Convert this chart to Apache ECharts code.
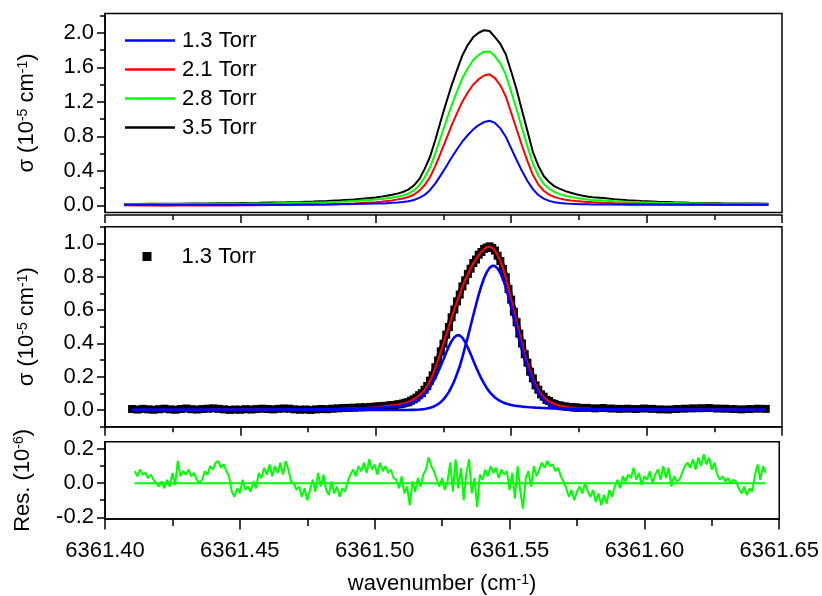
<!DOCTYPE html>
<html><head><meta charset="utf-8">
<script src="https://cdn.jsdelivr.net/npm/echarts@6/dist/echarts.min.js"></script>
<style>html,body{margin:0;padding:0;background:#fff}#c{width:822px;height:596px}</style>
</head><body><div id="c"></div>
<script>
// ---------- top panel: absorption profiles at four pressures ----------
const wnTop = [6361.407,6361.412,6361.417,6361.422,6361.427,6361.432,6361.437,6361.442,6361.447,6361.452,6361.457,6361.462,6361.467,6361.472,6361.477,6361.482,6361.487,6361.492,6361.496,
6361.500,6361.502,6361.504,6361.506,6361.508,6361.510,6361.512,6361.514,6361.516,6361.518,6361.520,6361.522,6361.524,6361.526,6361.528,6361.530,6361.532,6361.534,6361.536,6361.538,6361.540,6361.542,6361.544,6361.546,6361.548,6361.550,6361.552,6361.554,6361.556,6361.558,6361.560,6361.562,6361.564,6361.566,6361.568,6361.570,6361.572,6361.574,6361.576,6361.578,6361.580,
6361.584,6361.588,6361.593,6361.598,6361.604,6361.610,6361.616,6361.622,6361.628,6361.634,6361.640,6361.645];
const sigma13 = [.010,.008,.009,.007,.008,.006,.007,.008,.006,.007,.008,.007,.008,.009,.010,.011,.013,.015,.018,
.020,.022,.025,.029,.033,.038,.048,.062,.087,.120,.175,.255,.350,.450,.555,.650,.740,.815,.880,.930,.965,.980,.955,.892,.795,.660,.525,.397,.282,.188,.120,.078,.052,.036,.027,.021,.017,.015,.013,.012,.011,
.010,.009,.008,.008,.007,.007,.007,.006,.006,.006,.006,.006];
const sigma21 = [.000,-.003,-.002,-.004,-.002,-.003,-.001,.000,-.002,.001,.002,.003,.004,.006,.008,.011,.016,.022,.030,
.037,.042,.049,.057,.069,.080,.097,.123,.167,.232,.325,.458,.612,.768,.926,1.068,1.204,1.310,1.400,1.462,1.505,1.518,1.474,1.390,1.261,1.073,.882,.691,.512,.354,.243,.169,.124,.095,.078,.065,.056,.049,.044,.040,.036,
.030,.025,.020,.017,.014,.012,.010,.009,.008,.007,.006,.006];
const sigma28 = [.015,.014,.016,.015,.016,.016,.017,.018,.019,.020,.022,.023,.026,.029,.032,.036,.042,.050,.058,
.067,.073,.081,.090,.101,.115,.137,.173,.231,.322,.438,.605,.792,.977,1.158,1.321,1.476,1.592,1.684,1.743,1.781,1.784,1.727,1.643,1.514,1.315,1.110,.892,.680,.482,.346,.249,.192,.153,.130,.111,.097,.086,.076,.069,.063,
.057,.048,.041,.035,.029,.026,.023,.020,.018,.017,.016,.014];
const sigma35 = [.015,.016,.017,.018,.019,.020,.021,.023,.025,.027,.029,.032,.035,.039,.044,.050,.058,.068,.080,
.092,.101,.111,.122,.136,.155,.182,.228,.300,.420,.560,.760,.980,1.190,1.390,1.570,1.740,1.860,1.950,2.000,2.030,2.020,1.950,1.870,1.750,1.550,1.340,1.100,.860,.620,.460,.340,.270,.220,.190,.165,.145,.128,.114,.103,.094,
.085,.072,.060,.050,.042,.036,.031,.027,.024,.022,.020,.018];

// ---------- middle panel: 1.3 Torr data, fit and two components ----------
const wnMid = [6361.410,6361.412,6361.414,6361.416,6361.418,6361.420,6361.422,6361.424,6361.426,6361.428,6361.430,6361.432,6361.434,6361.436,6361.438,6361.440,6361.442,6361.444,6361.446,6361.448,6361.450,6361.452,6361.454,6361.456,6361.458,6361.460,6361.462,6361.464,6361.466,6361.468,6361.470,6361.472,6361.474,6361.476,6361.478,6361.480,6361.482,6361.484,6361.486,6361.488,6361.490,6361.492,6361.494,6361.496,6361.498,6361.500,
6361.501,6361.502,6361.503,6361.504,6361.505,6361.506,6361.507,6361.508,6361.509,6361.510,6361.511,6361.512,6361.513,6361.514,6361.515,6361.516,6361.517,6361.518,6361.519,6361.520,6361.521,6361.522,6361.523,6361.524,6361.525,6361.526,6361.527,6361.528,6361.529,6361.530,6361.531,6361.532,6361.533,6361.534,6361.535,6361.536,6361.537,6361.538,6361.539,6361.540,6361.541,6361.542,6361.543,6361.544,6361.545,6361.546,6361.547,6361.548,6361.549,6361.550,6361.551,6361.552,6361.553,6361.554,6361.555,6361.556,6361.557,6361.558,6361.559,6361.560,6361.561,6361.562,6361.563,6361.564,6361.565,6361.566,6361.567,6361.568,6361.569,6361.570,6361.571,6361.572,6361.573,6361.574,6361.575,
6361.578,6361.581,6361.584,6361.587,6361.590,6361.593,6361.596,6361.599,6361.602,6361.605,6361.608,6361.611,6361.614,6361.617,6361.620,6361.623,6361.626,6361.629,6361.632,6361.635,6361.638,6361.641,6361.644];
const sigmaData = [.006,.003,.007,.004,.002,.005,.008,.004,.002,.006,.009,.005,.003,.006,.008,.010,.007,.004,.001,.003,.002,.005,.003,.006,.008,.006,.004,.007,.009,.008,.004,.002,.003,.001,.004,.006,.005,.008,.010,.012,.013,.014,.016,.017,.019,.020,
.022,.021,.025,.024,.028,.029,.030,.034,.035,.039,.044,.047,.056,.064,.074,.089,.101,.122,.144,.176,.208,.257,.298,.352,.398,.452,.498,.557,.603,.652,.693,.742,.778,.817,.848,.882,.903,.932,.948,.967,.975,.982,.972,.957,.926,.894,.846,.797,.726,.662,.590,.527,.458,.399,.335,.284,.230,.190,.148,.122,.094,.080,.061,.054,.041,.037,.029,.028,.022,.022,.018,.018,.015,.016,.013,
.013,.010,.012,.009,.007,.008,.006,.009,.007,.004,.003,.006,.008,.010,.011,.012,.009,.008,.006,.004,.006,.008,.007];
const sigmaFit = [.001,.001,.001,.001,.001,.001,.001,.001,.001,.001,.001,.001,.001,.001,.002,.002,.002,.002,.002,.002,.002,.002,.002,.002,.002,.003,.003,.003,.003,.003,.003,.004,.004,.004,.004,.005,.005,.005,.006,.007,.008,.009,.010,.012,.014,.017,
.019,.020,.022,.024,.026,.028,.030,.032,.035,.038,.043,.048,.055,.065,.075,.087,.102,.120,.145,.175,.210,.255,.300,.350,.400,.450,.500,.555,.605,.650,.695,.740,.780,.815,.850,.880,.905,.930,.950,.965,.977,.980,.974,.955,.928,.892,.848,.795,.728,.660,.592,.525,.460,.397,.337,.282,.232,.188,.150,.120,.096,.078,.063,.052,.043,.036,.031,.027,.023,.020,.017,.015,.013,.011,.010,
.008,.006,.005,.004,.004,.004,.003,.003,.003,.003,.002,.002,.002,.002,.002,.002,.002,.002,.002,.001,.001,.001,.001];
const sigmaComp1 = [.001,.001,.001,.001,.001,.001,.001,.001,.001,.001,.001,.001,.001,.001,.002,.002,.002,.002,.002,.002,.002,.002,.002,.002,.002,.003,.003,.003,.003,.003,.003,.004,.004,.004,.004,.005,.005,.005,.006,.007,.007,.008,.009,.010,.011,.013,
.0137,.0146,.0157,.0168,.0181,.0196,.0213,.0231,.0255,.0281,.0319,.0357,.041,.0469,.0556,.0655,.078,.0946,.1134,.1357,.164,.194,.228,.266,.305,.345,.382,.414,.437,.449,.448,.433,.408,.374,.337,.297,.258,.222,.188,.158,.131,.109,.091,.0754,.0632,.0534,.0457,.0395,.0346,.0307,.0275,.0249,.0228,.0207,.0191,.0178,.0166,.0155,.0145,.0136,.0127,.012,.0113,.0107,.0101,.0095,.009,.0086,.0082,.0078,.0074,.007,.0068,.0065,.0062,
.0056,.005,.0046,.0042,.0038,.0035,.0032,.003,.0028,.0026,.0024,.0022,.0021,.002,.0019,.0018,.0017,.0016,.0015,.0014,.0014,.0013,.0012];
const sigmaComp2 = [0,0,0,0,0,0,0,0,0,0,0,0,0,0,0,0,0,0,0,0,0,0,0,0,0,0,0,0,0,0,0,0,0,0,0,0,0,0,0,0,0,0,0,0,0,0,
0,0,0,0,0,0,0,0,0,.0002,.0003,.0004,.0008,.0012,.0017,.0028,.0041,.0062,.0089,.0131,.0182,.026,.0353,.0486,.0637,.085,.109,.140,.175,.218,.263,.319,.380,.439,.504,.569,.632,.692,.746,.792,.828,.853,.865,.864,.849,.822,.784,.736,.681,.619,.556,.491,.427,.365,.309,.256,.210,.169,.134,.104,.080,.0608,.0453,.0333,.0241,.0171,.012,.0083,.0057,.0038,.0026,.0016,.001,.0006,.0004,
0,0,0,0,0,0,0,0,0,0,0,0,0,0,0,0,0,0,0,0,0,0,0];

// ---------- bottom panel: fit residual (units of 1e-6) ----------
const wnRes = [6361.411,6361.412,6361.413,6361.414,6361.415,6361.416,6361.417,6361.418,6361.419,6361.420,
6361.421,6361.422,6361.423,6361.424,6361.425,6361.426,6361.427,6361.428,6361.429,6361.430,
6361.431,6361.432,6361.433,6361.434,6361.435,6361.436,6361.437,6361.438,6361.439,6361.440,
6361.441,6361.442,6361.443,6361.444,6361.445,6361.446,6361.447,6361.448,6361.449,6361.450,
6361.451,6361.452,6361.453,6361.454,6361.455,6361.456,6361.457,6361.458,6361.459,6361.460,
6361.461,6361.462,6361.463,6361.464,6361.465,6361.466,6361.467,6361.468,6361.469,6361.470,
6361.471,6361.472,6361.473,6361.474,6361.475,6361.476,6361.477,6361.478,6361.479,6361.480,
6361.481,6361.482,6361.483,6361.484,6361.485,6361.486,6361.487,6361.488,6361.489,6361.490,
6361.491,6361.492,6361.493,6361.494,6361.495,6361.496,6361.497,6361.498,6361.499,6361.500,
6361.501,6361.502,6361.503,6361.504,6361.505,6361.506,6361.507,6361.508,6361.509,6361.510,
6361.511,6361.512,6361.513,6361.514,6361.515,6361.516,6361.517,6361.518,6361.519,6361.520,
6361.521,6361.522,6361.523,6361.524,6361.525,6361.526,6361.527,6361.528,6361.529,6361.530,
6361.531,6361.532,6361.533,6361.534,6361.535,6361.536,6361.537,6361.538,6361.539,6361.540,
6361.541,6361.542,6361.543,6361.544,6361.545,6361.546,6361.547,6361.548,6361.549,6361.550,
6361.551,6361.552,6361.553,6361.554,6361.555,6361.556,6361.557,6361.558,6361.559,6361.560,
6361.561,6361.562,6361.563,6361.564,6361.565,6361.566,6361.567,6361.568,6361.569,6361.570,
6361.571,6361.572,6361.573,6361.574,6361.575,6361.576,6361.577,6361.578,6361.579,6361.580,
6361.581,6361.582,6361.583,6361.584,6361.585,6361.586,6361.587,6361.588,6361.589,6361.590,
6361.591,6361.592,6361.593,6361.594,6361.595,6361.596,6361.597,6361.598,6361.599,6361.600,
6361.601,6361.602,6361.603,6361.604,6361.605,6361.606,6361.607,6361.608,6361.609,6361.610,
6361.611,6361.612,6361.613,6361.614,6361.615,6361.616,6361.617,6361.618,6361.619,6361.620,
6361.621,6361.622,6361.623,6361.624,6361.625,6361.626,6361.627,6361.628,6361.629,6361.630,
6361.631,6361.632,6361.633,6361.634,6361.635,6361.636,6361.637,6361.638,6361.639,6361.640,
6361.641,6361.642,6361.643,6361.644,6361.645];
const residual = [.07,.04,.08,.05,.06,.03,.05,.02,.00,-.02,
.01,-.03,.02,-.02,.06,-.01,.13,.04,.07,.05,
.08,.04,.06,.02,.00,.02,.07,.05,.10,.08,
.12,.13,.09,.11,.07,.04,-.05,-.08,-.03,-.06,
.02,-.04,-.02,-.05,.01,-.03,.06,.03,.09,.05,
.11,.04,.10,.06,.12,.05,.13,.08,.01,.00,
-.04,-.02,-.08,-.03,-.10,-.04,.02,-.05,.06,-.02,
.05,-.04,-.07,.01,-.06,-.02,-.08,-.03,-.05,.01,
.05,.08,.04,.10,.07,.12,.06,.14,.08,.11,
.05,.12,.07,.10,.06,.08,.03,.02,-.03,.04,
-.06,-.02,-.13,.01,-.05,.03,-.02,.05,.08,.15,
.10,.07,.02,-.02,.03,-.04,.01,.12,-.05,.14,
-.03,.09,-.10,.06,.14,-.06,.03,-.14,.05,.02,
.08,.04,.10,.06,.09,.03,.08,.05,.07,-.04,
.06,-.09,.10,-.05,-.15,.03,.07,-.02,.10,.04,
.08,.12,.09,.13,.10,.11,.07,.09,.04,.01,
-.03,-.08,-.04,-.10,-.05,-.02,-.06,.00,-.05,-.08,
-.04,-.11,-.06,-.13,-.07,-.12,-.04,-.08,-.02,.02,
-.03,.04,.01,.05,.03,.09,.02,.06,-.01,.04,
.02,.07,.00,.05,.08,.02,.10,.03,.09,-.02,
.04,.01,.02,.06,.10,.12,.09,.14,.08,.15,
.10,.17,.11,.15,.08,.12,.05,.02,.04,.01,
.03,.00,.02,.01,-.03,-.06,-.02,-.07,-.03,-.05,
.05,.11,.02,.10,.06];
const resZeroLine = [6361.411, 6361.645];

// ---------- axes ticks / labels ----------
const xMajorTicks = [6361.40, 6361.45, 6361.50, 6361.55, 6361.60, 6361.65];
const xMinorTicks = [6361.425, 6361.475, 6361.525, 6361.575, 6361.625];
const yTopMajor = [0, 0.4, 0.8, 1.2, 1.6, 2.0];
const yTopMinor = [0.2, 0.6, 1.0, 1.4, 1.8, 2.2];
const yMidMajor = [0, 0.2, 0.4, 0.6, 0.8, 1.0];
const yMidMinor = [-0.1, 0.1, 0.3, 0.5, 0.7, 0.9, 1.1];
const yResMajor = [-0.2, 0, 0.2];
const yResMinor = [-0.1, 0.1];
const legendTop = ['1.3 Torr', '2.1 Torr', '2.8 Torr', '3.5 Torr'];

const FONT = '"Liberation Sans", Arial, sans-serif';
const FS = 22;
const zip = (xs, ys) => xs.map((x, i) => [x, ys[i]]);
const richName = {
  a: {fontSize: FS, fontFamily: FONT, color: '#000'},
  s: {fontSize: 14, fontFamily: FONT, color: '#000', verticalAlign: 'top'}
};

function xAxes(gridIndex, offset, majLen, minLen, withLabels) {
  const major = {
    type: 'value', gridIndex, min: 6361.40, max: 6361.65, position: 'bottom', offset,
    axisLine: {show: true, onZero: false, lineStyle: {color: '#000', width: 1.5}},
    axisTick: {show: true, inside: false, length: majLen, customValues: xMajorTicks, lineStyle: {color: '#000', width: 1.5}},
    axisLabel: {show: withLabels, customValues: xMajorTicks, showMinLabel: true, showMaxLabel: true,
      formatter: v => v.toFixed(2), fontSize: FS, fontFamily: FONT, color: '#000', margin: 21},
    splitLine: {show: false}
  };
  if (withLabels) {
    major.name = '{a|wavenumber (cm}{s|-1}{a|)}';
    major.nameLocation = 'middle';
    major.nameGap = 54;
    major.nameTextStyle = {fontSize: FS, fontFamily: FONT, color: '#000', rich: richName};
  }
  const minor = {
    type: 'value', gridIndex, min: 6361.40, max: 6361.65, position: 'bottom', offset,
    axisLine: {show: false, onZero: false},
    axisTick: {show: true, inside: false, length: minLen, customValues: xMinorTicks, lineStyle: {color: '#000', width: 1.5}},
    axisLabel: {show: false}, splitLine: {show: false}
  };
  return [major, minor];
}
function yAxes(gridIndex, min, max, majVals, minVals, name, nameGap) {
  const major = {
    type: 'value', gridIndex, min, max, position: 'left',
    axisLine: {show: true, onZero: false, lineStyle: {color: '#000', width: 1.5}},
    axisTick: {show: true, inside: false, length: 8, customValues: majVals, lineStyle: {color: '#000', width: 1.5}},
    axisLabel: {show: true, customValues: majVals, showMinLabel: true, showMaxLabel: true,
      formatter: v => v.toFixed(1), fontSize: FS, fontFamily: FONT, color: '#000', margin: 11},
    splitLine: {show: false},
    name, nameLocation: 'middle', nameGap,
    nameTextStyle: {fontSize: FS, fontFamily: FONT, color: '#000', rich: richName}
  };
  const minor = {
    type: 'value', gridIndex, min, max, position: 'left',
    axisLine: {show: false, onZero: false},
    axisTick: {show: true, inside: false, length: 5, customValues: minVals, lineStyle: {color: '#000', width: 1.5}},
    axisLabel: {show: false}, splitLine: {show: false}
  };
  return [major, minor];
}

const gridStyle = {show: true, borderColor: '#000', borderWidth: 1.5, backgroundColor: 'transparent', left: 105, right: 40, containLabel: false};
const lineS = (name, xi, yi, xs, ys, color, width, z) => ({
  name, type: 'line', xAxisIndex: xi, yAxisIndex: yi, data: zip(xs, ys), z: z || 2,
  symbol: 'none', color, lineStyle: {color, width}, animation: false, silent: true
});

const option = {
  animation: false,
  grid: [
    Object.assign({top: 13.5, height: 199}, gridStyle),
    Object.assign({top: 226.7, height: 200}, gridStyle),
    Object.assign({top: 441.7, height: 77.6}, gridStyle)
  ],
  xAxis: [...xAxes(0, 2.5, 8, 5, false), ...xAxes(1, 0, 9, 5.5, false), ...xAxes(2, 0, 10.5, 7, true)],
  yAxis: [
    ...yAxes(0, -0.083, 2.223, yTopMajor, yTopMinor, '{a|σ (10}{s|-5}{a| cm}{s|-1}{a|)}', 67),
    ...yAxes(1, -0.1, 1.1, yMidMajor, yMidMinor, '{a|σ (10}{s|-5}{a| cm}{s|-1}{a|)}', 67),
    ...yAxes(2, -0.21, 0.243, yResMajor, yResMinor, '{a|Res. (10}{s|-6}{a|)}', 71)
  ],
  legend: [
    {data: legendTop, orient: 'vertical', left: 125, top: 29.5, padding: 0, itemWidth: 50, itemHeight: 2.5, itemGap: 7,
      icon: 'rect', itemStyle: {borderWidth: 0}, selectedMode: false,
      textStyle: {fontSize: FS, fontFamily: FONT, color: '#000', padding: [0, 0, 0, 2]}},
    {data: ['data13'], orient: 'vertical', left: 142.5, top: 245.5, padding: 0, itemWidth: 9, itemHeight: 9,
      icon: 'rect', itemStyle: {borderWidth: 0}, selectedMode: false,
      formatter: () => '1.3 Torr',
      textStyle: {fontSize: FS, fontFamily: FONT, color: '#000', padding: [0, 0, 0, 25]}}
  ],
  series: [
    lineS('3.5 Torr', 0, 0, wnTop, sigma35, '#000000', 2),
    lineS('2.8 Torr', 0, 0, wnTop, sigma28, '#00ff00', 2),
    lineS('2.1 Torr', 0, 0, wnTop, sigma21, '#ff0000', 2),
    lineS('1.3 Torr', 0, 0, wnTop, sigma13, '#0000ff', 2),
    {name: 'data13', type: 'line', xAxisIndex: 2, yAxisIndex: 2, data: zip(wnMid, sigmaData), z: 1,
      symbol: 'rect', symbolSize: 8, showSymbol: true, color: '#000', itemStyle: {color: '#000', borderWidth: 0},
      lineStyle: {color: '#000', width: 6}, animation: false, silent: true},
    lineS('fit', 2, 2, wnMid, sigmaFit, '#ff0000', 2.2, 3),
    lineS('comp1', 2, 2, wnMid, sigmaComp1, '#0000ff', 2.6, 4),
    lineS('comp2', 2, 2, wnMid, sigmaComp2, '#0000ff', 2.6, 4),
    lineS('zero', 4, 4, resZeroLine, [0, 0], '#00ff00', 2),
    lineS('residual', 4, 4, wnRes, residual, '#00ff00', 2)
  ]
};
const chart = echarts.init(document.getElementById('c'));
chart.setOption(option);
</script>
</body></html>
